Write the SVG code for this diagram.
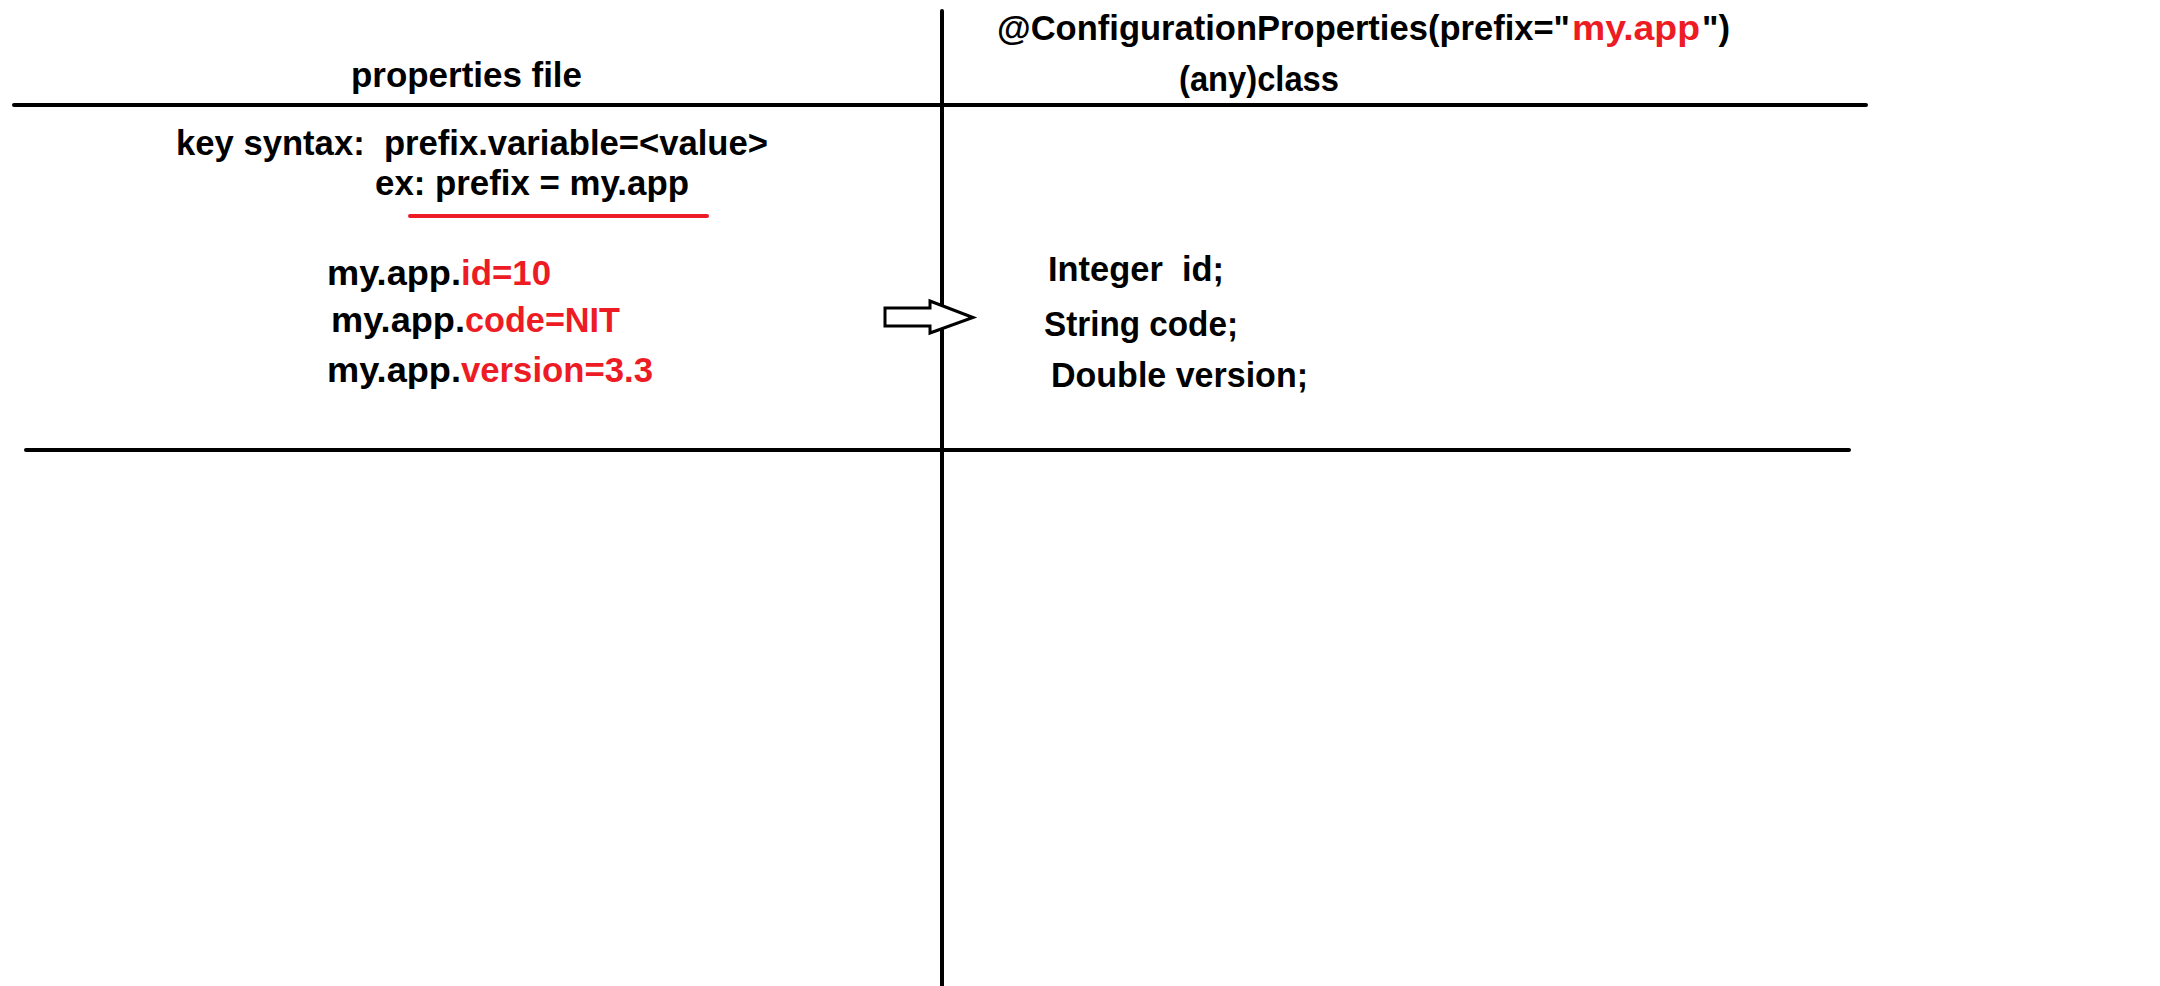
<svg xmlns="http://www.w3.org/2000/svg" width="2160" height="986" viewBox="0 0 2160 986">
<style>
text{font-family:"Liberation Sans",Arial,sans-serif;font-weight:bold;font-size:35px;fill:#000;white-space:pre}
.r{fill:#ED1C24}
.ln{stroke:#000;stroke-width:4;stroke-linecap:round;fill:none}
</style>
<rect width="2160" height="986" fill="#fff"/>
<g id="grid">
<line class="ln" x1="942" y1="11" x2="942" y2="986"/>
<line class="ln" x1="14" y1="105" x2="1866" y2="105"/>
<line class="ln" x1="26" y1="450" x2="1849" y2="450"/>
</g>
<g id="properties-file">
<text x="351" y="87" textLength="231" lengthAdjust="spacingAndGlyphs">properties file</text>
<text x="176" y="155" textLength="592" lengthAdjust="spacingAndGlyphs">key syntax:  prefix.variable=&lt;value&gt;</text>
<text x="375" y="195" textLength="314" lengthAdjust="spacingAndGlyphs">ex: prefix = my.app</text>
<line x1="410" y1="216" x2="707" y2="216" stroke="#ED1C24" stroke-width="4" stroke-linecap="round"/>
<text x="327" y="285" textLength="134" lengthAdjust="spacingAndGlyphs">my.app.</text>
<text class="r" x="461" y="285" textLength="90" lengthAdjust="spacingAndGlyphs">id=10</text>
<text x="331" y="332" textLength="134" lengthAdjust="spacingAndGlyphs">my.app.</text>
<text class="r" x="465" y="332" textLength="155" lengthAdjust="spacingAndGlyphs">code=NIT</text>
<text x="327" y="382" textLength="134" lengthAdjust="spacingAndGlyphs">my.app.</text>
<text class="r" x="461" y="382" textLength="192" lengthAdjust="spacingAndGlyphs">version=3.3</text>
</g>
<g id="connectors">
<path d="M885,308 L930,308 L930,301 L973,317.5 L930,333 L930,326 L885,326 Z" fill="#fff" stroke="#000" stroke-width="3" stroke-linejoin="miter"/>
</g>
<g id="any-class">
<text x="997" y="40" textLength="573" lengthAdjust="spacingAndGlyphs">@ConfigurationProperties(prefix="</text>
<text class="r" x="1572" y="40" textLength="128" lengthAdjust="spacingAndGlyphs">my.app</text>
<text x="1702" y="40" textLength="28" lengthAdjust="spacingAndGlyphs">")</text>
<text x="1179" y="91" textLength="160" lengthAdjust="spacingAndGlyphs">(any)class</text>
<text x="1048" y="281" textLength="176" lengthAdjust="spacingAndGlyphs">Integer  id;</text>
<text x="1044" y="336" textLength="194" lengthAdjust="spacingAndGlyphs">String code;</text>
<text x="1051" y="387" textLength="257" lengthAdjust="spacingAndGlyphs">Double version;</text>
</g>
</svg>
